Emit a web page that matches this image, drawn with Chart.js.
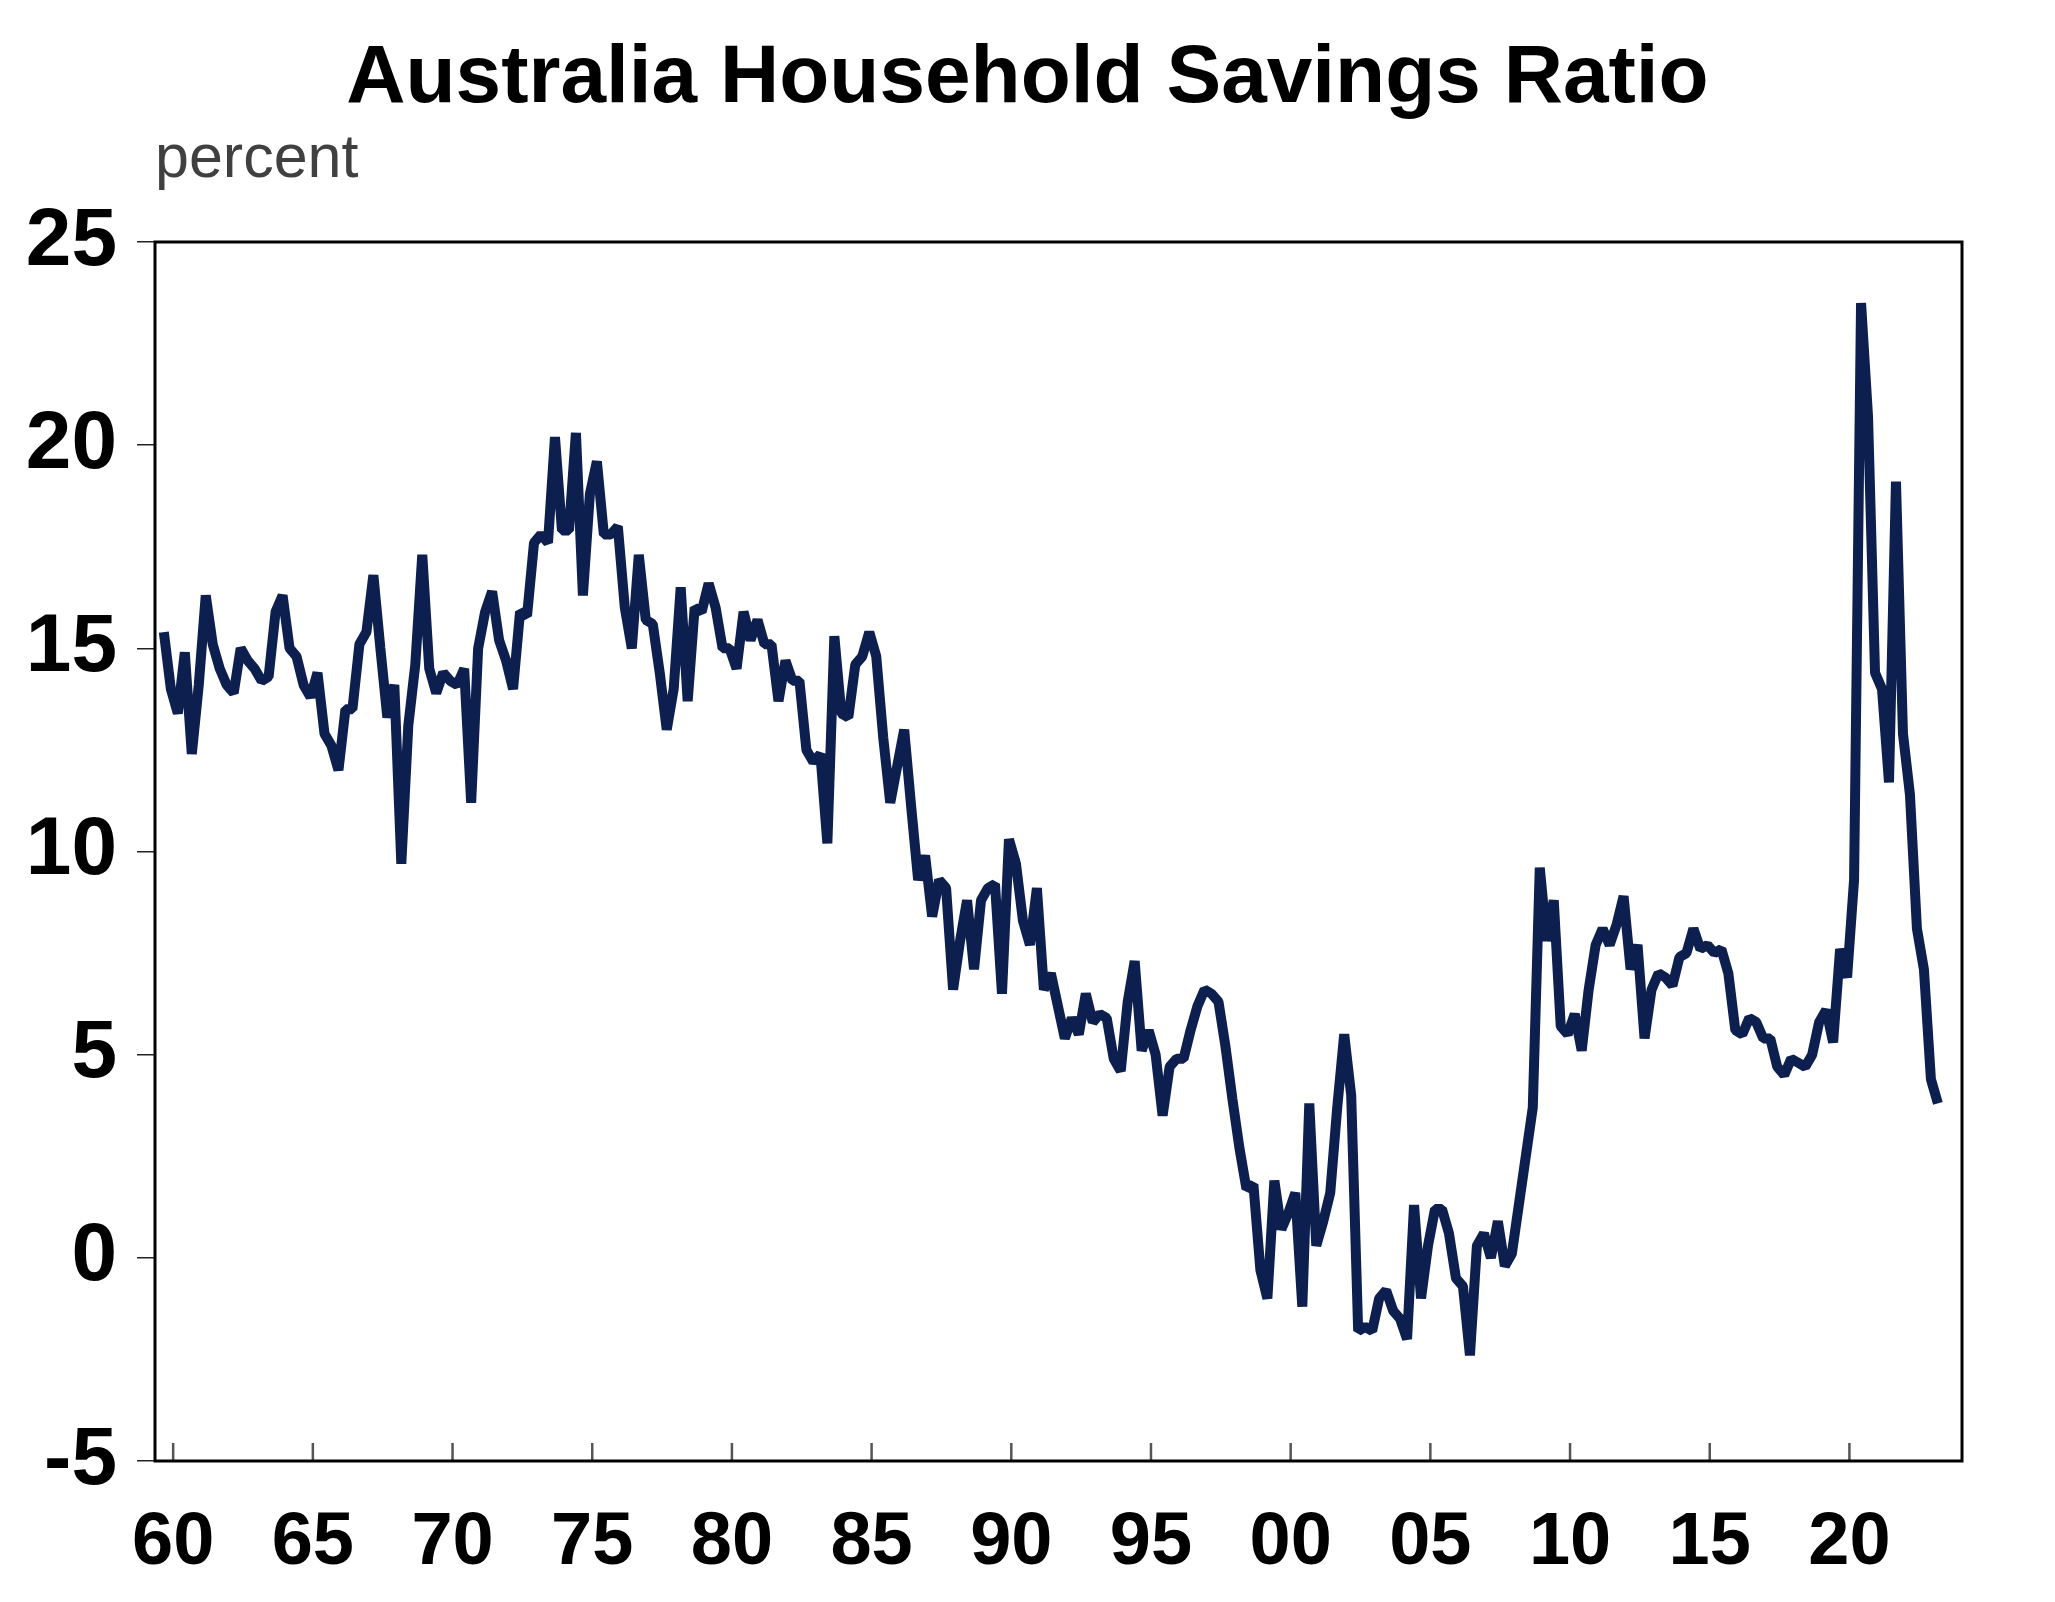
<!DOCTYPE html>
<html>
<head>
<meta charset="utf-8">
<title>Australia Household Savings Ratio</title>
<script src="https://cdn.jsdelivr.net/npm/chart.js@4.4.0/dist/chart.umd.min.js"></script>
<style>
  html, body { margin: 0; padding: 0; background: #fff; }
  canvas { display: block; }
</style>
</head>
<body>
<canvas id="savingsChart" width="2055" height="1602"></canvas>
<script>
'use strict';

// Household saving ratio (%), quarterly, Sep qtr 1959 to Mar qtr 2023
const firstYear = 1959;
const firstQuarter = 3;

const ratio1960s = [
  15.4, 14.0, 13.4, 14.9, 12.4, 14.1, 16.3, 15.1, 14.5, 14.1, 13.9, 15.0, 14.7, 14.5,
  14.2, 14.3, 15.9, 16.3, 15.0, 14.8, 14.1, 13.8, 14.4, 12.9, 12.6, 12.0, 13.5, 13.5,
  15.1, 15.4, 16.8, 15.0, 13.3, 14.1, 9.7, 13.1, 14.6, 17.3, 14.5, 13.9, 14.4, 14.2
];
const ratio1970s = [
  14.1, 14.5, 11.2, 15.0, 15.9, 16.4, 15.2, 14.7, 14.0, 15.9, 15.8, 17.6, 17.8, 17.6,
  20.2, 17.9, 17.9, 20.3, 16.3, 18.8, 19.6, 17.8, 17.8, 18.0, 16.0, 15.0, 17.3, 15.7,
  15.6, 14.4, 13.0, 14.0, 16.5, 13.7, 16.0, 15.9, 16.6, 16.0, 15.0, 15.0
];
const ratio1980s = [
  14.5, 15.9, 15.2, 15.7, 15.1, 15.1, 13.7, 14.7, 14.2, 14.2, 12.5, 12.2, 12.4, 10.2,
  15.3, 13.4, 13.3, 14.6, 14.8, 15.4, 14.8, 12.8, 11.2, 12.1, 13.0, 11.1, 9.3, 9.9,
  8.4, 9.3, 9.1, 6.6, 7.8, 8.8, 7.1, 8.8, 9.1, 9.2, 6.5, 10.3
];
const ratio1990s = [
  9.7, 8.3, 7.7, 9.1, 6.6, 7.0, 6.2, 5.4, 5.9, 5.5, 6.5, 5.8, 6.0, 5.9,
  4.9, 4.6, 6.3, 7.3, 5.1, 5.6, 5.0, 3.5, 4.7, 4.9, 4.9, 5.6, 6.2, 6.6,
  6.5, 6.3, 5.2, 3.9, 2.7, 1.7, 1.8, -0.3, -1.0, 1.9, 0.7, 1.1
];
const ratio2000s = [
  1.6, -1.2, 3.8, 0.3, 0.9, 1.6, 3.7, 5.5, 4.0, -1.8, -1.7, -1.8, -1.0, -0.8,
  -1.3, -1.5, -2.0, 1.3, -1.0, 0.3, 1.2, 1.2, 0.6, -0.5, -0.7, -2.4, 0.3, 0.6,
  0.0, 0.9, -0.2, 0.1, 1.3, 2.5, 3.7, 9.6, 7.8, 8.8, 5.7, 5.5
];
const ratio2010s = [
  6.0, 5.1, 6.6, 7.7, 8.1, 7.7, 8.2, 8.9, 7.1, 7.7, 5.4, 6.6, 7.0, 6.9,
  6.7, 7.4, 7.5, 8.1, 7.6, 7.7, 7.5, 7.6, 7.0, 5.6, 5.5, 5.9, 5.8, 5.4,
  5.4, 4.7, 4.5, 4.9, 4.8, 4.7, 5.0, 5.8, 6.1, 5.3, 7.6, 6.9
];
const ratio2020s = [9.3, 23.5, 20.7, 14.4, 14.0, 11.7, 19.1, 12.9, 11.4, 8.1, 7.1, 4.4, 3.8];

const yTicks = [-5, 0, 5, 10, 15, 20, 25];
const xTickYears = [1960, 1965, 1970, 1975, 1980, 1985, 1990, 1995, 2000, 2005, 2010, 2015, 2020];
const xTickLabels = ['60', '65', '70', '75', '80', '85', '90', '95', '00', '05', '10', '15', '20'];

const savingsRatio = [].concat(ratio1960s, ratio1970s, ratio1980s, ratio1990s, ratio2000s, ratio2010s, ratio2020s);

// place each quarter at the start of its last month
function quarterPosition(i) {
  const q = firstQuarter - 1 + i;
  const year = firstYear + Math.floor(q / 4);
  const quarter = (q % 4) + 1;
  return year + (quarter * 3 - 1) / 12;
}

const fontFamily = '"Liberation Sans", Arial, sans-serif';

const frameAndTitle = {
  id: 'frameAndTitle',
  afterDraw(chart) {
    const { ctx, chartArea: a, scales } = chart;
    ctx.save();

    // x ticks point up into the plot
    ctx.strokeStyle = '#555';
    ctx.lineWidth = 2.5;
    xTickYears.forEach(v => {
      const px = scales.x.getPixelForValue(v);
      ctx.beginPath();
      ctx.moveTo(px, a.bottom);
      ctx.lineTo(px, a.bottom - 18);
      ctx.stroke();
    });

    ctx.strokeStyle = '#000';
    ctx.lineWidth = 3;
    ctx.strokeRect(a.left, a.top, a.right - a.left, a.bottom - a.top);

    ctx.fillStyle = '#000';
    ctx.font = 'bold 82px ' + fontFamily;
    ctx.textAlign = 'center';
    ctx.textBaseline = 'alphabetic';
    ctx.fillText('Australia Household Savings Ratio', chart.width / 2, 102);

    ctx.fillStyle = '#404040';
    ctx.font = '61px ' + fontFamily;
    ctx.textAlign = 'left';
    ctx.fillText('percent', a.left, 177);
    ctx.restore();
  }
};

function populateSavingsChart() {
  const ctx = document.getElementById('savingsChart').getContext('2d');

  new Chart(ctx, {
    type: 'line',
    data: {
      datasets: [{
        label: 'Household saving ratio',
        data: savingsRatio.map((v, i) => ({ x: quarterPosition(i), y: v })),
        borderColor: '#0d1f4f',
        borderWidth: 10,
        borderJoinStyle: 'bevel',
        pointRadius: 0,
        tension: 0,
        fill: false
      }]
    },
    options: {
      responsive: false,
      devicePixelRatio: 1,
      animation: false,
      events: [],
      layout: { padding: { top: 242, right: 93, left: 0, bottom: 0 } },
      plugins: {
        legend: { display: false },
        tooltip: { enabled: false },
        title: { display: false }
      },
      scales: {
        x: {
          type: 'linear',
          min: 1959.35,
          max: 2024.03,
          afterBuildTicks: scale => { scale.ticks = xTickYears.map(v => ({ value: v })); },
          afterFit: scale => { scale.height = 141; },
          grid: { display: false, drawTicks: false },
          border: { display: false },
          ticks: {
            autoSkip: false,
            maxRotation: 0,
            padding: 38,
            color: '#000',
            font: { family: fontFamily, size: 74, weight: 'bold' },
            callback: v => xTickLabels[xTickYears.indexOf(v)]
          }
        },
        y: {
          min: -5,
          max: 25,
          afterBuildTicks: scale => { scale.ticks = yTicks.map(v => ({ value: v })); },
          afterFit: scale => { scale.width = 155; },
          grid: { drawOnChartArea: false, drawTicks: true, tickLength: 18, color: '#222', lineWidth: 1.5 },
          border: { display: false },
          ticks: {
            padding: 20,
            color: '#000',
            font: { family: fontFamily, size: 82, weight: 'bold' }
          }
        }
      }
    },
    plugins: [frameAndTitle]
  });
}

populateSavingsChart();
</script>
</body>
</html>
